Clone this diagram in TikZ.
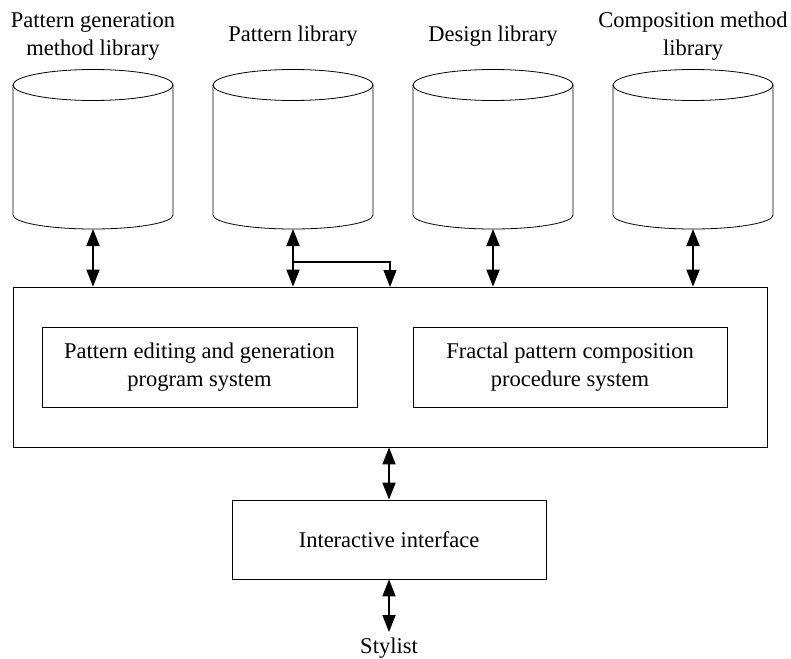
\documentclass[tikz,border=0pt]{standalone}
\usepackage{fontspec}
\setmainfont{Liberation Serif}
\usetikzlibrary{arrows.meta,calc}
\begin{document}
\begin{tikzpicture}[x=1pt,y=-1pt,
  txt/.style={font=\fontsize{22.5}{28}\selectfont, align=center},
  lbl/.style={txt, inner sep=0pt},
  box/.style={draw, line width=0.8pt, txt, inner sep=0pt},
  tip/.style={Triangle[length=17pt,width=13pt]},
  dbl/.style={line width=1.8pt, {Triangle[length=17pt,width=13pt]}-{Triangle[length=17pt,width=13pt]}},
  one/.style={line width=1.3pt, -{Triangle[length=17pt,width=13pt]}},
  cyl/.style={line width=0.8pt}]
\useasboundingbox (0,0) rectangle (791,658);
% cylinders
\foreach \i/\cx in {1/93,2/293,3/493,4/693}{
  \draw[cyl] (\cx,85) ellipse (80 and 15.5);
  \draw[cyl] (\cx-80,85) -- (\cx-80,215) arc (180:0:80 and 14) -- (\cx+80,85);
  \coordinate (cb\i) at (\cx,229);
}
% labels
\node[lbl] (l1) at (93,36) {Pattern generation\\method library};
\node[lbl, anchor=base] (l2) at (293,42) {Pattern library};
\node[lbl, anchor=base] (l3) at (493,42) {Design library};
\node[lbl] (l4) at (693,36) {Composition method\\library};
% boxes
\node[box, minimum width=754pt, minimum height=160pt] (sys) at (390,367) {};
\node[box, minimum width=315pt, minimum height=80pt] (pe) at (199.5,367) {Pattern editing and generation\\program system};
\node[box, minimum width=314pt, minimum height=80pt] (fp) at (570,367) {Fractal pattern composition\\procedure system};
\node[box, minimum width=314pt, minimum height=79pt] (ia) at (389,539.5) {Interactive interface};
\node[lbl, anchor=base] (st) at (389,653) {Stylist};
% connectors
\foreach \i in {1,...,4}{
  \draw[dbl] (cb\i) -- (cb\i |- sys.north);
}
\coordinate (j) at (293,262);
\draw[one] (j) -- (390,262) -- (390,287);
\draw[dbl] (ia.north |- sys.south) -- (ia.north);
\draw[dbl] (ia.south) -- (389,632);
\end{tikzpicture}
\end{document}
